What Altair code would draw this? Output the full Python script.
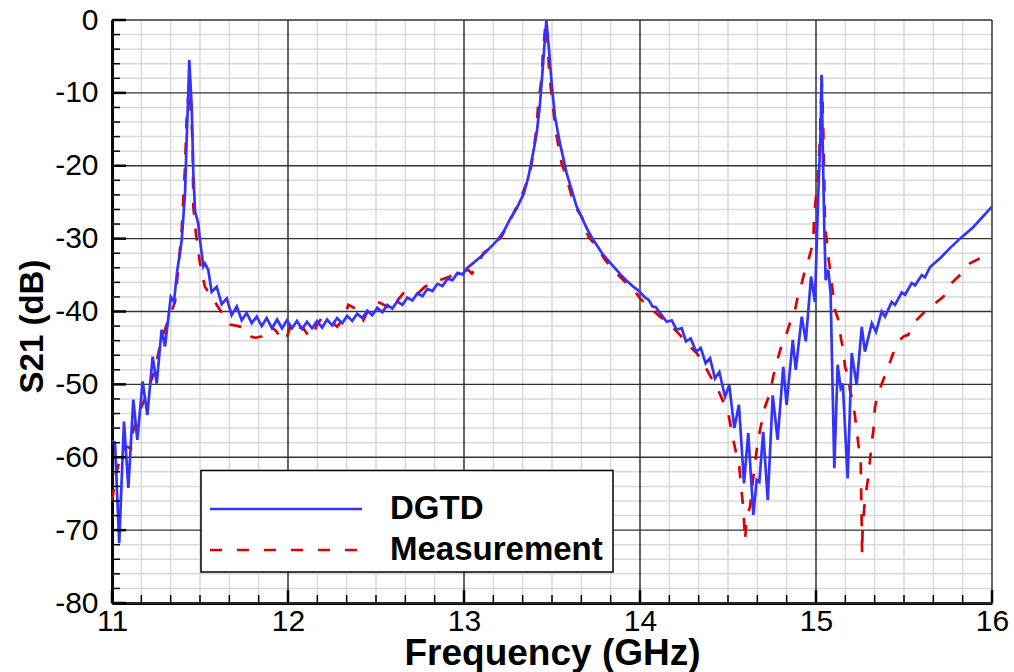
import altair as alt
import pandas as pd

# ---------------- data ----------------
series_names = ["DGTD", "Measurement"]

dgtd = [
    (11.000, -57.7), (11.017, -58.0), (11.041, -71.8), (11.068, -55.1), (11.093, -64.2),
    (11.121, -52.1), (11.144, -57.6), (11.174, -49.6), (11.201, -54.2), (11.231, -46.2),
    (11.254, -49.9), (11.282, -42.5), (11.301, -44.8), (11.334, -38.0), (11.352, -38.7),
    (11.371, -34.3), (11.386, -32.0), (11.396, -30.2), (11.415, -23.8), (11.424, -16.5),
    (11.434, -9.6), (11.439, -5.5), (11.453, -11.9), (11.462, -21.0), (11.472, -26.3),
    (11.490, -27.9), (11.500, -30.2), (11.519, -33.8), (11.528, -33.4), (11.547, -34.3),
    (11.566, -37.3), (11.595, -36.6), (11.623, -39.0), (11.652, -38.2), (11.680, -40.5),
    (11.709, -39.3), (11.737, -41.2), (11.765, -40.2), (11.794, -41.6), (11.822, -40.7),
    (11.851, -42.0), (11.879, -40.9), (11.909, -42.3), (11.938, -41.1), (11.966, -42.3),
    (11.994, -41.2), (12.022, -42.3), (12.051, -41.3), (12.080, -42.4), (12.108, -41.4),
    (12.137, -42.3), (12.165, -41.3), (12.194, -42.2), (12.222, -41.1), (12.251, -41.9),
    (12.279, -40.9), (12.308, -41.6), (12.336, -40.6), (12.365, -41.3), (12.393, -40.3),
    (12.422, -40.9), (12.450, -39.9), (12.479, -40.5), (12.507, -39.5), (12.536, -40.1),
    (12.564, -39.1), (12.593, -39.6), (12.621, -38.6), (12.650, -39.1), (12.678, -38.1),
    (12.707, -38.5), (12.735, -37.5), (12.764, -37.9), (12.792, -36.9), (12.821, -37.2),
    (12.849, -36.2), (12.878, -36.5), (12.906, -35.5), (12.935, -35.7), (12.963, -34.7),
    (12.992, -34.9), (13.020, -34.0), (13.050, -33.4), (13.100, -32.4), (13.150, -31.2),
    (13.190, -30.2), (13.226, -29.0), (13.260, -27.4), (13.300, -25.8), (13.340, -23.8),
    (13.365, -21.6), (13.385, -19.2), (13.400, -17.3), (13.413, -15.5), (13.430, -12.0),
    (13.441, -8.7), (13.455, -4.1), (13.468, 0.0), (13.483, -4.1), (13.498, -8.7),
    (13.517, -13.3), (13.545, -16.9), (13.583, -21.0), (13.640, -25.6), (13.700, -28.7),
    (13.735, -30.2), (13.790, -32.2), (13.849, -33.8), (13.900, -35.2), (13.930, -35.9),
    (13.962, -36.6), (13.990, -37.1), (14.030, -38.1), (14.050, -38.4), (14.070, -39.3),
    (14.090, -39.4), (14.114, -40.2), (14.152, -41.4), (14.180, -41.2), (14.208, -42.5),
    (14.237, -42.3), (14.261, -44.1), (14.288, -43.7), (14.318, -45.5), (14.345, -45.0),
    (14.373, -47.1), (14.398, -46.4), (14.426, -49.2), (14.451, -48.3), (14.483, -51.7),
    (14.507, -50.1), (14.536, -56.0), (14.562, -52.8), (14.591, -63.6), (14.615, -56.7),
    (14.644, -67.9), (14.663, -63.1), (14.678, -63.4), (14.700, -56.5), (14.726, -65.9),
    (14.754, -51.5), (14.782, -57.6), (14.814, -47.6), (14.833, -52.8), (14.868, -43.9),
    (14.885, -48.0), (14.919, -40.7), (14.942, -44.1), (14.972, -35.2), (14.994, -38.7),
    (15.013, -23.8), (15.027, -14.6), (15.032, -7.5), (15.038, -16.9), (15.047, -28.4),
    (15.055, -35.7), (15.070, -34.3), (15.083, -37.5), (15.104, -61.5), (15.123, -47.3),
    (15.140, -50.5), (15.152, -49.9), (15.180, -62.9), (15.203, -45.7), (15.231, -50.1),
    (15.260, -42.1), (15.278, -45.5), (15.317, -41.6), (15.341, -42.8), (15.373, -40.0),
    (15.392, -40.7), (15.430, -38.7), (15.449, -39.1), (15.487, -37.4), (15.506, -37.7),
    (15.544, -36.1), (15.563, -36.4), (15.601, -35.0), (15.619, -35.3), (15.648, -33.9),
    (15.705, -32.7), (15.761, -31.3), (15.818, -30.0), (15.894, -28.4), (16.000, -25.6),
]

measurement = [
    (11.000, -66.0), (11.013, -64.0), (11.023, -62.2), (11.033, -61.5), (11.045, -59.9),
    (11.078, -58.5), (11.108, -58.8), (11.121, -56.3), (11.140, -54.9), (11.159, -53.6),
    (11.188, -51.9), (11.216, -49.9), (11.244, -48.0), (11.270, -45.0), (11.301, -42.5),
    (11.330, -40.5), (11.358, -38.7), (11.370, -35.7), (11.386, -31.5), (11.396, -28.8),
    (11.415, -20.1), (11.424, -13.7), (11.434, -10.3), (11.439, -9.3), (11.453, -14.2),
    (11.459, -18.3), (11.462, -25.6), (11.477, -29.3), (11.500, -33.4), (11.528, -36.6),
    (11.566, -38.0), (11.614, -39.8), (11.670, -41.8), (11.716, -42.0), (11.765, -42.3),
    (11.794, -43.5), (11.818, -43.6), (11.852, -43.4), (11.879, -42.1), (11.903, -42.0),
    (11.936, -42.8), (11.964, -43.9), (11.989, -43.9), (12.021, -41.4), (12.040, -42.1),
    (12.087, -42.3), (12.121, -43.5), (12.142, -43.4), (12.163, -41.9), (12.192, -40.9),
    (12.216, -41.2), (12.239, -41.2), (12.280, -42.1), (12.301, -41.4), (12.324, -40.5),
    (12.343, -39.1), (12.369, -39.4), (12.399, -40.0), (12.428, -41.2), (12.456, -39.8),
    (12.485, -38.7), (12.523, -38.8), (12.561, -39.3), (12.598, -39.8), (12.625, -38.4),
    (12.655, -37.5), (12.703, -37.5), (12.739, -37.5), (12.778, -36.6), (12.816, -36.1),
    (12.864, -35.7), (12.920, -35.2), (12.959, -34.8), (12.994, -34.4), (13.024, -34.3),
    (13.045, -34.8), (13.072, -33.8), (13.110, -32.0), (13.148, -31.3), (13.182, -30.5),
    (13.214, -29.7), (13.252, -27.9), (13.290, -26.1), (13.318, -24.7), (13.347, -22.9),
    (13.375, -21.0), (13.394, -18.3), (13.413, -14.6), (13.422, -11.4), (13.442, -7.8),
    (13.447, -5.0), (13.460, -1.4), (13.464, -0.4), (13.472, -1.8), (13.479, -5.0),
    (13.485, -7.3), (13.498, -10.5), (13.507, -12.3), (13.523, -15.5), (13.534, -16.9),
    (13.555, -19.7), (13.574, -21.0), (13.602, -23.3), (13.621, -25.2), (13.669, -27.0),
    (13.706, -29.7), (13.754, -31.1), (13.801, -32.9), (13.848, -34.3), (13.905, -35.7),
    (13.953, -36.6), (14.000, -38.2), (14.047, -39.3), (14.114, -40.7), (14.161, -41.6),
    (14.227, -43.2), (14.265, -44.4), (14.322, -45.7), (14.360, -47.1), (14.407, -49.2),
    (14.436, -50.3), (14.473, -52.4), (14.502, -54.0), (14.517, -56.0), (14.530, -57.6),
    (14.549, -59.7), (14.564, -61.3), (14.578, -64.9), (14.587, -67.0), (14.597, -71.4),
    (14.606, -68.2), (14.625, -66.8), (14.642, -63.1), (14.663, -59.0), (14.682, -56.3),
    (14.710, -53.1), (14.739, -51.2), (14.757, -48.9), (14.786, -46.2), (14.805, -44.6),
    (14.833, -43.0), (14.852, -41.6), (14.881, -39.8), (14.900, -37.5), (14.919, -36.1),
    (14.938, -34.3), (14.957, -32.9), (14.972, -31.6), (14.985, -30.2), (14.990, -26.5),
    (15.007, -22.9), (15.017, -19.2), (15.023, -15.5), (15.027, -12.3), (15.032, -7.8),
    (15.037, -11.0), (15.042, -16.0), (15.047, -22.0), (15.051, -28.4), (15.061, -30.2),
    (15.070, -32.5), (15.080, -34.3), (15.094, -37.0), (15.108, -39.8), (15.125, -41.0),
    (15.142, -43.7), (15.155, -45.3), (15.165, -47.6), (15.184, -48.9), (15.193, -50.8),
    (15.212, -52.6), (15.231, -56.2), (15.240, -58.1), (15.254, -60.4), (15.256, -64.0),
    (15.260, -69.5), (15.262, -73.3), (15.265, -69.5), (15.278, -65.9), (15.297, -62.7),
    (15.307, -60.4), (15.316, -58.1), (15.326, -56.3), (15.335, -53.1), (15.354, -51.2),
    (15.382, -49.4), (15.411, -47.6), (15.439, -45.7), (15.477, -43.9), (15.500, -43.4),
    (15.524, -43.2), (15.563, -41.4), (15.610, -40.2), (15.676, -38.9), (15.723, -38.0),
    (15.771, -36.1), (15.818, -35.0), (15.875, -33.4), (15.932, -32.7), (16.000, -31.8),
]

x_major = [11, 12, 13, 14, 15, 16]
y_major = [-80, -70, -60, -50, -40, -30, -20, -10, 0]
x_minor = [11.1667, 11.3333, 11.5, 11.6667, 11.8333,
           12.1667, 12.3333, 12.5, 12.6667, 12.8333,
           13.1667, 13.3333, 13.5, 13.6667, 13.8333,
           14.1667, 14.3333, 14.5, 14.6667, 14.8333,
           15.1667, 15.3333, 15.5, 15.6667, 15.8333]
y_minor = [-78, -76, -74, -72, -68, -66, -64, -62, -58, -56, -54, -52,
           -48, -46, -44, -42, -38, -36, -34, -32, -28, -26, -24, -22,
           -18, -16, -14, -12, -8, -6, -4, -2]

# ---------------- frames ----------------
df_d = pd.DataFrame(dgtd, columns=["f", "db"])
df_m = pd.DataFrame(measurement, columns=["f", "db"])
df_xmaj = pd.DataFrame({"v": x_major})
df_ymaj = pd.DataFrame({"v": y_major})
df_xmin = pd.DataFrame({"v": x_minor})
df_ymin = pd.DataFrame({"v": y_minor})
one = pd.DataFrame({"a": [0]})

FONT = "Liberation Sans"
W, H = 880, 583

xs = alt.Scale(domain=[11, 16], nice=False, zero=False)
ys = alt.Scale(domain=[-80, 0], nice=False, zero=False)

xaxis = alt.Axis(values=x_major, labelExpr="'' + datum.value", labelFont=FONT,
                 labelFontSize=30, labelColor="black", labelPadding=3,
                 labelOverlap=False, labelFlush=False, ticks=False, grid=False,
                 domain=True, domainColor="black", domainWidth=3,
                 title="Frequency (GHz)", titleFont=FONT, titleFontSize=37,
                 titleFontWeight="bold", titleColor="black", titleY=61,
                 titleBaseline="alphabetic")
yaxis = alt.Axis(values=y_major, labelExpr="'' + datum.value", labelFont=FONT,
                 labelFontSize=30, labelColor="black", labelPadding=14,
                 labelOverlap=False, labelFlush=False, ticks=False, grid=False,
                 domain=True, domainColor="black", domainWidth=3,
                 title="S21 (dB)", titleFont=FONT, titleFontSize=33,
                 titleFontWeight="bold", titleColor="black", titleX=-80,
                 titleY=306, titleBaseline="middle", titleAngle=270)

X = lambda fld: alt.X(fld, scale=xs, axis=xaxis)
Y = lambda fld: alt.Y(fld, scale=ys, axis=yaxis)

grid_xmin = alt.Chart(df_xmin).mark_rule(color="#d8d8d8", strokeWidth=1.5).encode(x=X("v:Q"))
grid_ymin = alt.Chart(df_ymin).mark_rule(color="#d8d8d8", strokeWidth=1.5).encode(y=Y("v:Q"))
grid_xmaj = alt.Chart(df_xmaj).mark_rule(color="#111111", strokeWidth=1.3).encode(x=X("v:Q"))
grid_ymaj = alt.Chart(df_ymaj).mark_rule(color="#333333", strokeWidth=1.4).encode(y=Y("v:Q"))

line_d = alt.Chart(df_d).mark_line(color="#3333ff", strokeWidth=2.7).encode(
    x=X("f:Q"), y=Y("db:Q"))
line_m = alt.Chart(df_m).mark_line(color="#dd0000", strokeWidth=2.7, strokeDash=[12, 14]).encode(
    x=X("f:Q"), y=Y("db:Q"))

# inward ticks
tick_xmaj = alt.Chart(df_xmaj).mark_rule(color="black", strokeWidth=2.5).encode(
    x=X("v:Q"), y=alt.value(H - 13), y2=alt.value(H))
tick_xmin = alt.Chart(df_xmin).mark_rule(color="black", strokeWidth=1.5).encode(
    x=X("v:Q"), y=alt.value(H - 8), y2=alt.value(H))
tick_ymaj = alt.Chart(df_ymaj).mark_rule(color="black", strokeWidth=2.5).encode(
    y=Y("v:Q"), x=alt.value(0), x2=alt.value(14))
tick_ymin = alt.Chart(df_ymin).mark_rule(color="black", strokeWidth=1.5).encode(
    y=Y("v:Q"), x=alt.value(0), x2=alt.value(8))

# legend box
leg_box = alt.Chart(one).mark_rect(fill="white", stroke="black", strokeWidth=1.5).encode(
    x=alt.value(89), x2=alt.value(501), y=alt.value(450.5), y2=alt.value(552))
leg_l1 = alt.Chart(one).mark_rule(color="#3333ff", strokeWidth=2.7).encode(
    x=alt.value(98), x2=alt.value(250), y=alt.value(489))
leg_l2 = alt.Chart(one).mark_rule(color="#dd0000", strokeWidth=2.7, strokeDash=[12, 15]).encode(
    x=alt.value(98), x2=alt.value(250), y=alt.value(530))
leg_t1 = alt.Chart(pd.DataFrame({"name": [series_names[0]]})).mark_text(
    font=FONT, fontSize=33, fontWeight="bold", align="left", baseline="middle", color="black"
).encode(text="name:N", x=alt.value(278), y=alt.value(489))
leg_t2 = alt.Chart(pd.DataFrame({"name": [series_names[1]]})).mark_text(
    font=FONT, fontSize=33, fontWeight="bold", align="left", baseline="middle", color="black"
).encode(text="name:N", x=alt.value(278), y=alt.value(530))

chart = alt.layer(
    grid_xmin, grid_ymin, grid_xmaj, grid_ymaj,
    line_m, line_d,
    leg_box, leg_l1, leg_l2, leg_t1, leg_t2,
    tick_xmin, tick_ymin, tick_xmaj, tick_ymaj,
).properties(
    width=W, height=H,
    autosize=alt.AutoSizeParams(type="none"),
    padding={"left": 112, "top": 20, "right": 22, "bottom": 69},
    background="white",
).configure_view(stroke=None)

chart.save("out.html", embed_options={"renderer": "svg", "actions": False})
